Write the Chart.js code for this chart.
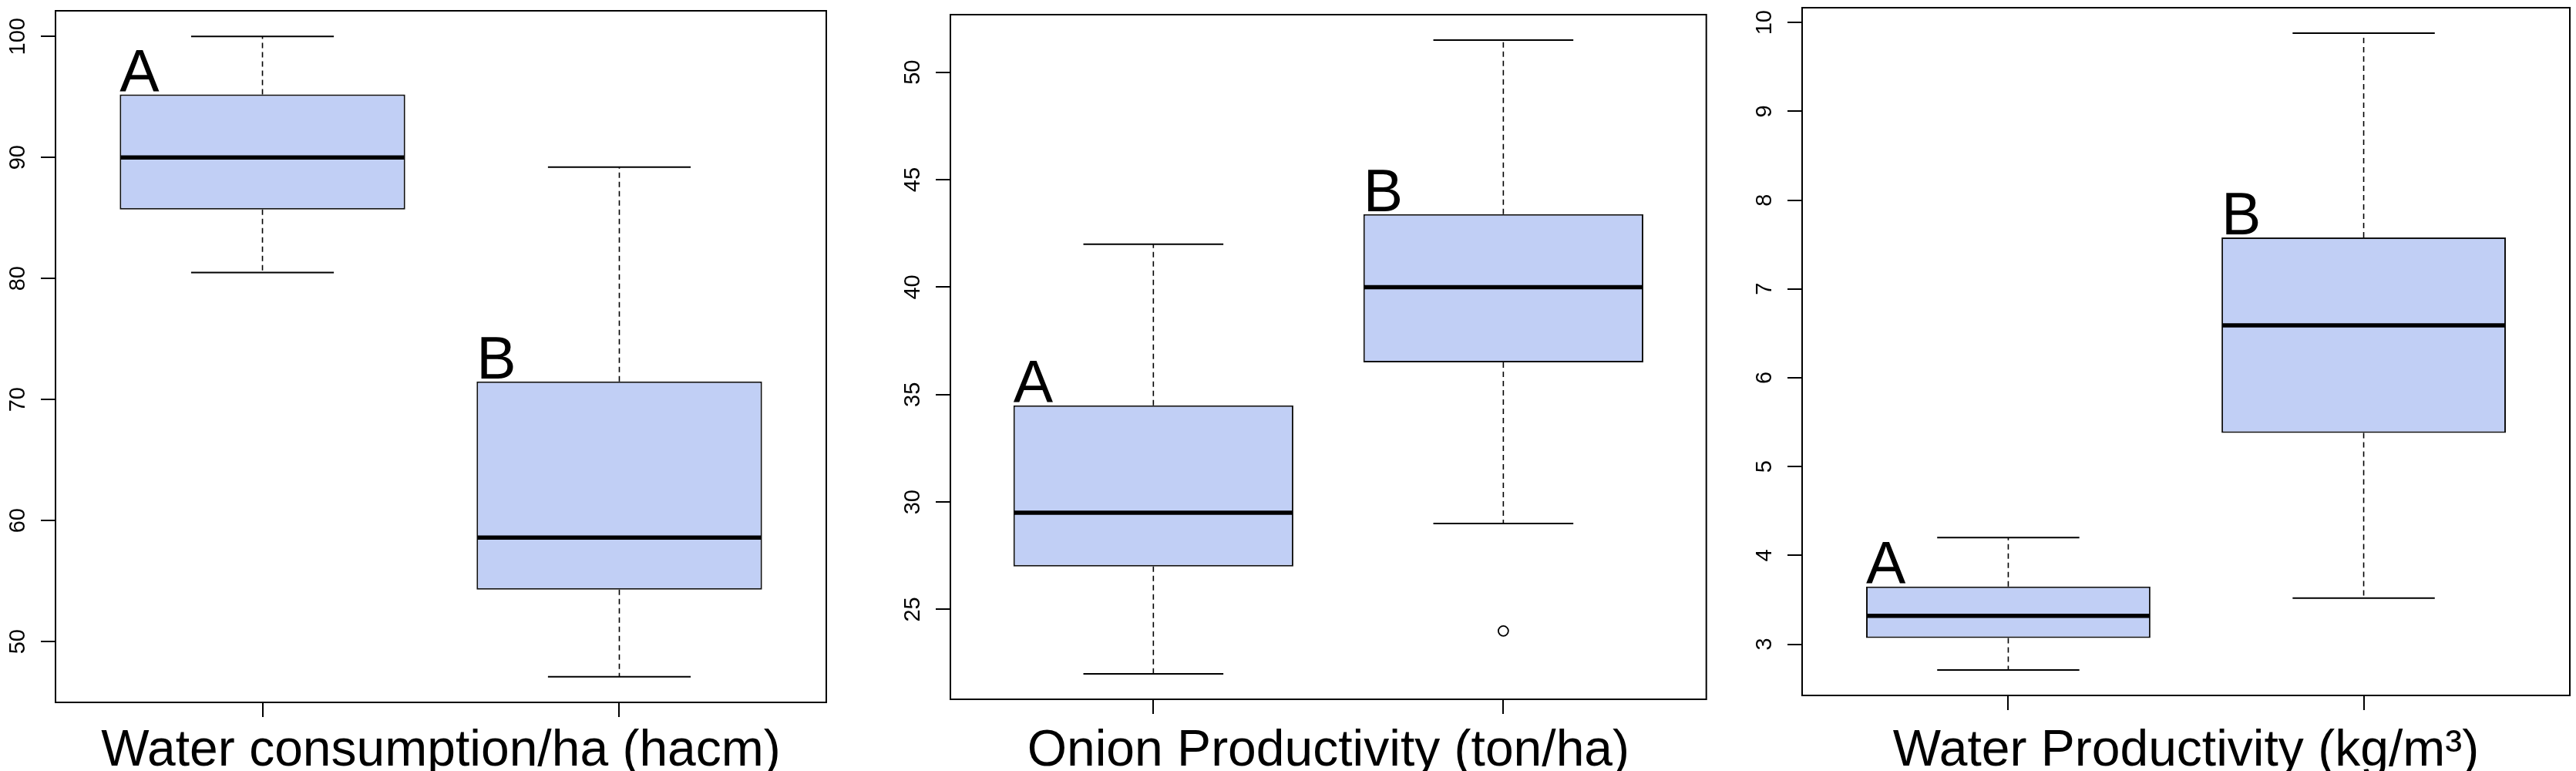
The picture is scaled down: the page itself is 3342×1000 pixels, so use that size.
<!DOCTYPE html>
<html>
<head>
<meta charset="utf-8">
<script src="https://cdn.jsdelivr.net/npm/chart.js@4.4.1/dist/chart.umd.min.js"></script>
<style>
    html, body { margin: 0; padding: 0; background: #fff; }
    #wrap { position: relative; width: 3342px; height: 1000px; overflow: hidden; background: #fff; }
    #wrap canvas { position: absolute; top: 0; }
</style>
</head>
<body>
<div id="wrap">
    <canvas id="waterUseChart"></canvas>
    <canvas id="onionChart"></canvas>
    <canvas id="waterProdChart"></canvas>
</div>
<script>
// groups (letters above boxes) and their x positions
const groups = ['A', 'B'];
const groupPos = [1, 2];

// box stats per group: [lower whisker, Q1, median, Q3, upper whisker]
const waterUseA = [80.5, 85.7, 90.0, 95.2, 100.0];
const waterUseB = [47.1, 54.3, 58.6, 71.5, 89.2];
const waterUseTicks = [50, 60, 70, 80, 90, 100];

const onionA = [22.0, 27.0, 29.5, 34.5, 42.0];
const onionB = [29.0, 36.5, 40.0, 43.4, 51.5];
const onionOutliersB = [24.0];
const onionTicks = [25, 30, 35, 40, 45, 50];

const waterProdA = [2.71, 3.07, 3.32, 3.65, 4.20];
const waterProdB = [3.52, 5.38, 6.59, 7.58, 9.88];
const waterProdTicks = [3, 4, 5, 6, 7, 8, 9, 10];

const FONT = '"Liberation Sans", Arial, Helvetica, sans-serif';
const H = 1000;

function boxPlugin(cfg) {
    return {
        id: 'boxplot',
        afterDatasetsDraw(chart) {
            const ctx = chart.ctx;
            const xs = chart.scales.x, ys = chart.scales.y;
            ctx.save();
            ctx.strokeStyle = '#000';
            ctx.fillStyle = '#000';
            cfg.stats.forEach((s, i) => {
                const cx = xs.getPixelForValue(groupPos[i]);
                const halfBox = xs.getPixelForValue(groupPos[i] + 0.4) - cx;
                const halfCap = halfBox / 2;

                // whiskers (dashed)
                ctx.setLineDash([7, 5]);
                ctx.lineWidth = 1.6;
                ctx.beginPath();
                ctx.moveTo(cx, ys.getPixelForValue(s[3]));
                ctx.lineTo(cx, ys.getPixelForValue(s[4]));
                ctx.moveTo(cx, ys.getPixelForValue(s[1]));
                ctx.lineTo(cx, ys.getPixelForValue(s[0]));
                ctx.stroke();

                // staples
                ctx.setLineDash([]);
                ctx.lineWidth = 2;
                ctx.beginPath();
                [s[0], s[4]].forEach(v => {
                    const py = ys.getPixelForValue(v);
                    ctx.moveTo(cx - halfCap, py);
                    ctx.lineTo(cx + halfCap, py);
                });
                ctx.stroke();

                // median
                ctx.lineWidth = 5.5;
                ctx.beginPath();
                const pm = ys.getPixelForValue(s[2]);
                ctx.moveTo(cx - halfBox + 1, pm);
                ctx.lineTo(cx + halfBox - 1, pm);
                ctx.stroke();

                // group letter
                ctx.font = '77px ' + FONT;
                ctx.textAlign = 'left';
                ctx.textBaseline = 'alphabetic';
                ctx.fillText(groups[i], cx - halfBox, ys.getPixelForValue(s[3]) - 4);
            });
            ctx.restore();
        },
        afterDraw(chart) {
            const ctx = chart.ctx;
            const ys = chart.scales.y;
            const a = chart.chartArea;
            ctx.save();
            // frame
            ctx.strokeStyle = '#000';
            ctx.lineWidth = 2;
            ctx.strokeRect(a.left, a.top, a.right - a.left, a.bottom - a.top);

            // rotated y tick labels
            ctx.fillStyle = '#000';
            ctx.font = '29px ' + FONT;
            ctx.textAlign = 'center';
            ctx.textBaseline = 'alphabetic';
            cfg.ticks.forEach(v => {
                ctx.save();
                ctx.translate(a.left - 40, ys.getPixelForValue(v));
                ctx.rotate(-Math.PI / 2);
                ctx.fillText(String(v), 0, 0);
                ctx.restore();
            });

            // axis title
            ctx.font = '66px ' + FONT;
            ctx.fillText(cfg.title, (a.left + a.right) / 2, 993);
            ctx.restore();
        }
    };
}

function makeBoxChart(id, frame, stats, outliers, ticks, title) {
    const canvas = document.getElementById(id);
    const canvasLeft = frame.left - 72;
    canvas.width = frame.right - canvasLeft + 4;
    canvas.height = H;
    canvas.style.left = canvasLeft + 'px';

    const all = stats.flat().concat(outliers.flat());
    const lo = Math.min(...all), hi = Math.max(...all);
    const pad = (hi - lo) * 0.04;

    new Chart(canvas, {
        type: 'bar',
        data: {
            datasets: [{
                data: groupPos.map((x, i) => ({ x: x, y: [stats[i][1], stats[i][3]] })),
                backgroundColor: '#c1cff5',
                borderColor: '#111',
                borderWidth: 2,
                borderSkipped: false,
                categoryPercentage: 1,
                barPercentage: 0.8
            }, {
                type: 'scatter',
                data: outliers.flatMap((vals, i) => vals.map(v => ({ x: groupPos[i], y: v }))),
                pointRadius: 6.5,
                pointBorderWidth: 1.8,
                pointBorderColor: '#000',
                pointBackgroundColor: 'rgba(0,0,0,0)'
            }]
        },
        options: {
            responsive: false,
            animation: false,
            events: [],
            layout: { padding: { left: 0, right: 4, top: frame.top, bottom: 0 } },
            plugins: {
                legend: { display: false },
                tooltip: { enabled: false }
            },
            scales: {
                x: {
                    type: 'linear',
                    min: 0.5 - 0.08,
                    max: 2.5 + 0.08,
                    offset: false,
                    afterBuildTicks: s => { s.ticks = groupPos.map(v => ({ value: v })); },
                    afterFit: s => { s.height = H - frame.bottom; },
                    ticks: { display: false },
                    border: { display: false },
                    grid: { offset: false, drawOnChartArea: false, tickLength: 19, color: '#000', lineWidth: 2 }
                },
                y: {
                    type: 'linear',
                    min: lo - pad,
                    max: hi + pad,
                    afterBuildTicks: s => { s.ticks = ticks.map(v => ({ value: v })); },
                    afterFit: s => { s.width = 72; },
                    ticks: { display: false },
                    border: { display: false },
                    grid: { drawOnChartArea: false, tickLength: 19, color: '#000', lineWidth: 2 }
                }
            }
        },
        plugins: [boxPlugin({ stats: stats, ticks: ticks, title: title })]
    });
}

makeBoxChart('waterUseChart', { left: 72, top: 14, right: 1072, bottom: 911 },
    [waterUseA, waterUseB], [[], []], waterUseTicks, 'Water consumption/ha (hacm)');

makeBoxChart('onionChart', { left: 1233, top: 19, right: 2218, bottom: 907 },
    [onionA, onionB], [[], onionOutliersB], onionTicks, 'Onion Productivity (ton/ha)');

makeBoxChart('waterProdChart', { left: 2338, top: 10, right: 3334, bottom: 902 },
    [waterProdA, waterProdB], [[], []], waterProdTicks, 'Water Productivity (kg/m³)');
</script>
</body>
</html>
